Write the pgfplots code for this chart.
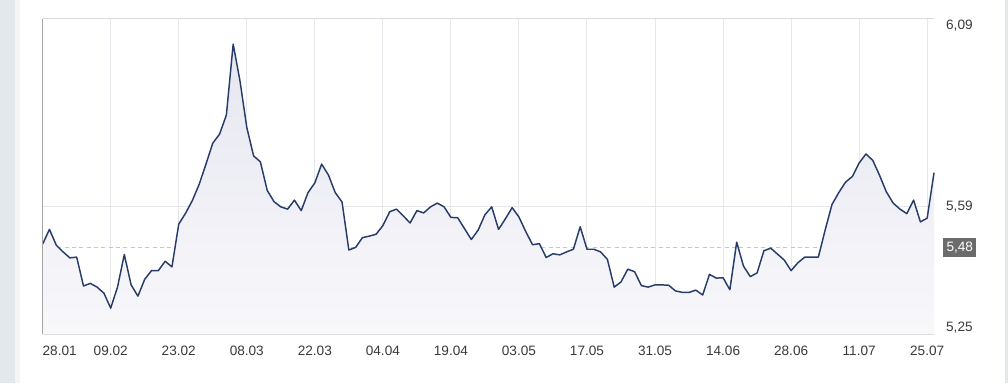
\documentclass[border=0pt]{standalone}
\usepackage{pgfplots}
\pgfplotsset{compat=1.18}
\usepackage{pgfplotstable}
\usepackage{fontspec}
\setmainfont{Liberation Sans}
\definecolor{linec}{HTML}{283C6A}
\definecolor{gridc}{HTML}{E6E6EC}
\definecolor{txt}{HTML}{3A3A3A}
\definecolor{lbl}{HTML}{6B6B6B}
\definecolor{strip}{HTML}{E3E8EC}
\definecolor{strip2}{HTML}{F3F5F7}
\definecolor{filltop}{HTML}{E6E6F0}
\definecolor{fillbot}{HTML}{F8F8FB}
\definecolor{dashc}{HTML}{C6C6C6}

\pgfplotstableread{
i v
0 5.490
1 5.529
2 5.487
3 5.469
4 5.453
5 5.455
6 5.378
7 5.385
8 5.375
9 5.359
10 5.319
11 5.375
12 5.462
13 5.381
14 5.351
15 5.396
16 5.419
17 5.419
18 5.444
19 5.429
20 5.543
21 5.572
22 5.606
23 5.649
24 5.703
25 5.759
26 5.783
27 5.834
28 6.023
29 5.925
30 5.801
31 5.725
32 5.709
33 5.633
34 5.603
35 5.589
36 5.583
37 5.607
38 5.579
39 5.627
40 5.653
41 5.703
42 5.674
43 5.627
44 5.602
45 5.474
46 5.481
47 5.507
48 5.511
49 5.516
50 5.539
51 5.576
52 5.583
53 5.565
54 5.546
55 5.579
56 5.573
57 5.589
58 5.599
59 5.589
60 5.561
61 5.560
62 5.531
63 5.502
64 5.527
65 5.568
66 5.589
67 5.529
68 5.557
69 5.587
70 5.562
71 5.523
72 5.488
73 5.491
74 5.454
75 5.464
76 5.461
77 5.469
78 5.476
79 5.536
80 5.476
81 5.476
82 5.469
83 5.449
84 5.375
85 5.389
86 5.423
87 5.416
88 5.379
89 5.375
90 5.381
91 5.381
92 5.380
93 5.365
94 5.361
95 5.361
96 5.367
97 5.354
98 5.409
99 5.399
100 5.400
101 5.368
102 5.495
103 5.431
104 5.403
105 5.413
106 5.472
107 5.479
108 5.463
109 5.447
110 5.419
111 5.440
112 5.455
113 5.455
114 5.455
115 5.527
116 5.595
117 5.627
118 5.655
119 5.670
120 5.706
121 5.730
122 5.713
123 5.673
124 5.629
125 5.599
126 5.583
127 5.571
128 5.607
129 5.549
130 5.559
131 5.680
}\rates

\begin{document}
\begin{tikzpicture}
\fill[white] (0pt,0pt) rectangle (756pt,287.25pt);
\fill[strip] (0pt,0pt) rectangle (11.25pt,287.25pt);
\fill[strip2] (11.25pt,0pt) rectangle (15pt,287.25pt);
\fill[strip] (753.75pt,0pt) rectangle (756pt,287.25pt);
\begin{axis}[
  at={(32pt,36.75pt)}, anchor=south west,
  scale only axis, width=668.5pt, height=236.25pt,
  xmin=0, xmax=131, ymin=5.25, ymax=6.09,
  axis line style={draw=none},
  major tick length=0pt,
  xtick={0,10,...,130},
  xticklabels={{\rlap{28.01}},09.02,23.02,08.03,22.03,04.04,19.04,03.05,17.05,31.05,14.06,28.06,11.07,25.07},
  ytick={5.25,5.59,6.09},
  yticklabels={{\raisebox{5pt}[\height][\depth]{5,25}},{5,59},{\raisebox{-5.25pt}[\height][\depth]{6,09}}},
  yticklabel pos=right,
  ticklabel style={font=\fontsize{10.2pt}{12pt}\selectfont, text=txt},
  xticklabel style={anchor=north, yshift=-5.6pt},
  yticklabel style={anchor=west, xshift=5.6pt},
  xmajorgrids, ymajorgrids,
  major grid style={draw=gridc, line width=0.75pt},
  extra y ticks={5.48},
  extra y tick labels={5{,}48},
  extra y tick style={
    major grid style={draw=dashc, line width=0.9pt, dash pattern=on 3pt off 2.5pt},
    yticklabel style={fill=lbl, text=white, inner xsep=2.5pt, inner ysep=2.8pt, xshift=1.1pt}},
  clip=false,
]
\addplot[top color=filltop, bottom color=fillbot, draw=none, forget plot] table[x=i, y=v] {\rates} -- (axis cs:131,5.25) -- (axis cs:0,5.25) -- cycle;
\addplot[linec, line width=1.1pt, line join=round] table[x=i, y=v] {\rates};
\draw[draw=gray!30, line width=0.75pt] (rel axis cs:0,1) -- (rel axis cs:1,1);
\draw[draw=gray!25, line width=0.75pt] (rel axis cs:0,0) -- (rel axis cs:1,0);
\draw[draw=gray!70, line width=1pt] (rel axis cs:0,0) -- (rel axis cs:0,1);
\end{axis}
\end{tikzpicture}
\end{document}
